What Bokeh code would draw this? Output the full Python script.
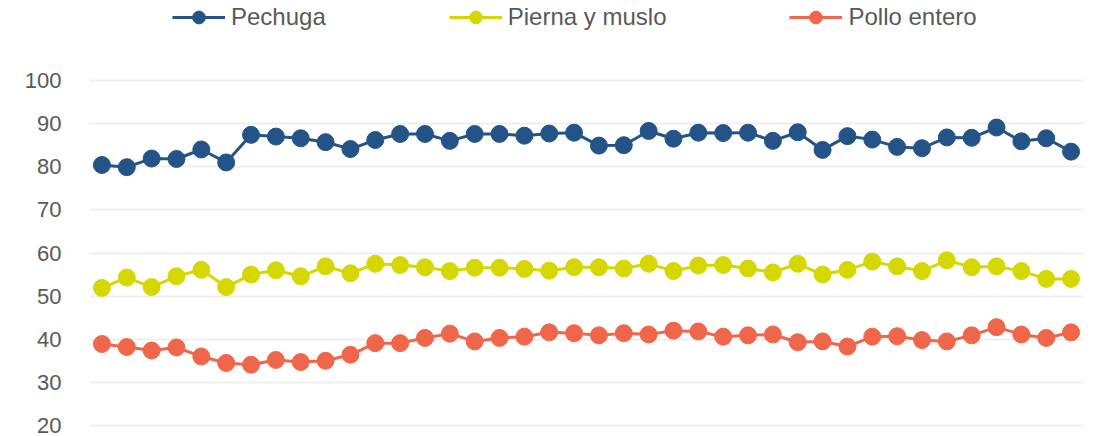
from bokeh.plotting import figure
from bokeh.models import Legend, LegendItem, FixedTicker, Range1d
from bokeh.embed import file_html
from bokeh.resources import INLINE

periodo = list(range(1, 41))
pechuga = [80.4, 79.9, 81.9, 81.8, 84.0, 81.0, 87.4, 87.0, 86.6, 85.7, 84.1, 86.2, 87.6, 87.6, 86.0,
           87.6, 87.6, 87.2, 87.7, 87.9, 84.9, 85.0, 88.3, 86.5, 87.9, 87.8, 87.9, 86.0, 88.0, 83.9,
           87.1, 86.3, 84.6, 84.3, 86.8, 86.7, 89.1, 85.9, 86.6, 83.5]
pierna_muslo = [51.9, 54.3, 52.1, 54.6, 56.1, 52.1, 55.0, 56.0, 54.6, 56.9, 55.3, 57.5, 57.2, 56.7, 55.8,
                56.6, 56.6, 56.3, 55.9, 56.7, 56.7, 56.4, 57.5, 55.8, 57.1, 57.2, 56.4, 55.5, 57.5, 55.0,
                56.1, 58.0, 56.9, 55.8, 58.3, 56.7, 56.9, 55.8, 54.0, 54.0]
pollo_entero = [38.9, 38.2, 37.4, 38.1, 36.0, 34.5, 34.1, 35.2, 34.7, 35.0, 36.4, 39.1, 39.1, 40.3, 41.3,
                39.5, 40.3, 40.6, 41.6, 41.4, 40.9, 41.4, 41.1, 42.0, 41.8, 40.6, 40.9, 41.1, 39.3, 39.5,
                38.3, 40.6, 40.7, 39.8, 39.5, 40.9, 42.8, 41.1, 40.3, 41.6]
y_ticks = [20, 30, 40, 50, 60, 70, 80, 90, 100]

series = [
    ("Pechuga", pechuga, "#245487"),
    ("Pierna y muslo", pierna_muslo, "#D5D800"),
    ("Pollo entero", pollo_entero, "#F0664A"),
]

p = figure(frame_width=994, frame_height=436, output_backend="svg", toolbar_location=None,
           x_range=Range1d(0.5, 40.5), y_range=Range1d(17.45, 118.55), x_axis_location=None,
           min_border_left=89, min_border_right=11, min_border_top=0, min_border_bottom=0)
p.outline_line_color = None
p.xgrid.grid_line_color = None
p.ygrid.grid_line_color = "#EFEFEF"
p.ygrid.grid_line_width = 2
p.ygrid.ticker = FixedTicker(ticks=y_ticks)

ax = p.yaxis[0]
ax.ticker = FixedTicker(ticks=y_ticks)
ax.axis_line_color = None
ax.major_tick_line_color = None
ax.minor_tick_line_color = None
ax.major_tick_out = 0
ax.major_tick_in = 0
ax.major_label_standoff = 28
ax.major_label_text_font = "Liberation Sans"
ax.major_label_text_font_size = "22px"
ax.major_label_text_color = "#595959"

items = []
for name, vals, color in series:
    lr = p.line(periodo, vals, line_color=color, line_width=3)
    sr = p.scatter(periodo, vals, size=17, fill_color=color, line_color=color)
    items.append(LegendItem(label=name, renderers=[lr, sr]))

legend = Legend(items=items, orientation="horizontal", location=(83, 403),
                glyph_width=53, glyph_height=32, label_standoff=6, spacing=123,
                padding=0, margin=0, border_line_alpha=0, background_fill_alpha=0,
                label_text_font="Liberation Sans", label_text_font_size="24px",
                label_text_color="#595959")
p.add_layout(legend, "center")

open("out.html", "w").write(file_html(p, INLINE))
